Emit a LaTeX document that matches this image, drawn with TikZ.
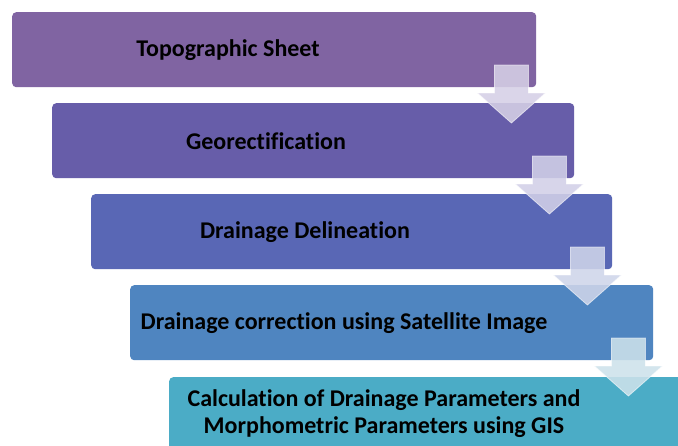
\documentclass[tikz,border=0pt]{standalone}
\usepackage{fontspec}
\setmainfont[Ligatures={NoCommon}]{Carlito}
\usetikzlibrary{calc}
\definecolor{cA}{HTML}{8064A2}
\definecolor{cB}{HTML}{675DA9}
\definecolor{cC}{HTML}{5967B5}
\definecolor{cD}{HTML}{4F85C0}
\definecolor{cE}{HTML}{4BACC6}
\definecolor{aA}{HTML}{D6D0E6}
\definecolor{aB}{HTML}{D2D0E8}
\definecolor{aC}{HTML}{CFD5EA}
\definecolor{aD}{HTML}{CDE2EB}
\tikzset{
  stepbox/.style={rectangle, rounded corners=4pt, draw=none, anchor=north west,
    minimum width=524pt, minimum height=75pt, inner sep=0pt},
  steptext/.style={font=\fontsize{24}{27}\selectfont\bfseries, text=black, align=center, inner sep=0pt},
  downarrow/.style={fill opacity=0.88, draw=white, draw opacity=0.6, line width=0.8pt, line join=miter}
}
\newcommand{\DownArrow}[2]{%
  \draw[downarrow, fill=#2]
    ($(#1.north east)+(-42,53)$) -- ($(#1.north east)+(-8,53)$) --
    ($(#1.north east)+(-8,81)$) -- ($(#1.north east)+(9,81)$) --
    ($(#1.north east)+(-25,111)$) -- ($(#1.north east)+(-59,81)$) --
    ($(#1.north east)+(-42,81)$) -- cycle;}
\begin{document}
\begin{tikzpicture}[x=1pt,y=-1pt]
\clip (0,0) rectangle (678,445);
\fill[white] (0,0) rectangle (678,445);
\node[stepbox, fill=cA] (b1) at (12,12) {};
\node[stepbox, fill=cB, minimum width=522pt] (b2) at (52,103) {};
\node[stepbox, fill=cC, minimum width=521pt] (b3) at (91,194) {};
\node[stepbox, fill=cD, minimum width=523pt] (b4) at (130,285) {};
\node[stepbox, fill=cE, minimum width=530pt] (b5) at (169,377) {};
\node[steptext] (t1) at (228,50) {Topographic Sheet};
\node[steptext] (t2) at (266,141) {Georectification};
\node[steptext] (t3) at (305,232) {Drainage Delineation};
\node[steptext] (t4) at (344,323) {Drainage correction using Satellite Image};
\node[steptext] (t5) at (384,414) {Calculation of Drainage Parameters and\\Morphometric Parameters using GIS};
\DownArrow{b1}{aA}
\DownArrow{b2}{aB}
\DownArrow{b3}{aC}
\DownArrow{b4}{aD}
\end{tikzpicture}
\end{document}
